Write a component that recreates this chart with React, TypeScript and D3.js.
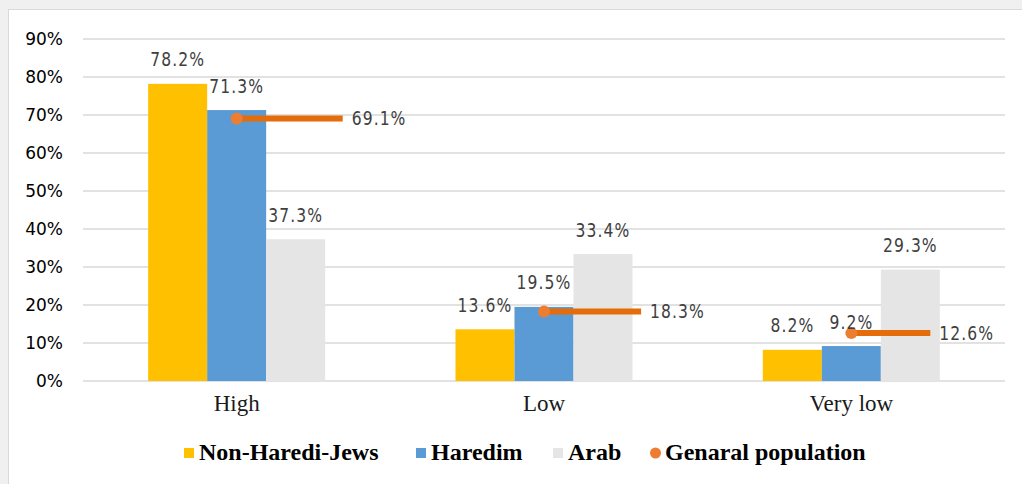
import React from "react";
import * as d3 from "d3";

const categories = ["High", "Low", "Very low"];
const seriesNames = ["Non-Haredi-Jews", "Haredim", "Arab"];
const nonHarediJews = [0.782, 0.136, 0.082];
const haredim = [0.713, 0.195, 0.092];
const arab = [0.373, 0.334, 0.293];
const generalPopulation = [0.691, 0.183, 0.126];
const yTicks = [0, 0.1, 0.2, 0.3, 0.4, 0.5, 0.6, 0.7, 0.8, 0.9];
const legendNames = ["Non-Haredi-Jews", "Haredim", "Arab", "Genaral population"];

const barColors = ["#FFC000", "#5B9BD5", "#E5E5E5"];
const lineColor = "#E46C0A";
const dotColor = "#ED7D31";

export default function App() {
  const W = 1022;
  const H = 484;
  const left = 83;
  const right = 1005;
  const y = d3.scaleLinear().domain([0, 0.9]).range([381, 39]);
  const x0 = d3
    .scaleBand<string>()
    .domain(categories)
    .range([left, right])
    .paddingInner(0.424)
    .paddingOuter(0.212);
  const x1 = d3
    .scaleBand<string>()
    .domain(seriesNames)
    .range([0, x0.bandwidth()])
    .padding(0);
  const seriesValues = [nonHarediJews, haredim, arab];
  const fmt = d3.format(".1%");
  const reach = [0.345, 0.316, 0.257];
  const legendX = [184, 416, 553, 650];
  const labelScale = "scale(0.82,1)";
  const labelSpacing = 1.3;

  return (
    <svg
      width={W}
      height={H}
      style={{ position: "absolute", left: 0, top: 0, display: "block" }}
    >
      <rect x={0} y={0} width={W} height={H} fill="#f0f0f0" />
      <rect x={8.5} y={9.5} width={W} height={H} fill="#ffffff" stroke="#d9d9d9" strokeWidth={1} />

      {yTicks.map((t) => (
        <g key={t}>
          <line x1={left} x2={right} y1={y(t)} y2={y(t)} stroke="#d9d9d9" strokeWidth={1.6} />
          <text
            x={63}
            y={y(t)}
            dy="0.36em"
            textAnchor="end"
            fontFamily="DejaVu Sans, sans-serif"
            fontSize={17}
            fill="#000"
          >
            {d3.format(".0%")(t)}
          </text>
        </g>
      ))}

      {categories.map((c, ci) => (
        <g key={c} transform={`translate(${x0(c)},0)`}>
          {seriesNames.map((s, si) => {
            const v = seriesValues[si][ci];
            return (
              <rect
                key={s}
                x={x1(s)}
                y={y(v)}
                width={x1.bandwidth()}
                height={y(0) - y(v)}
                fill={barColors[si]}
              />
            );
          })}
        </g>
      ))}

      {categories.map((c) => (
        <text
          key={c}
          x={(x0(c) as number) + x0.bandwidth() / 2}
          y={411}
          textAnchor="middle"
          fontFamily="Liberation Serif, Times New Roman, serif"
          fontSize={23}
          fill="#1a1a1a"
        >
          {c}
        </text>
      ))}

      {categories.map((c, ci) => {
        const cx = (x0(c) as number) + (x1(seriesNames[1]) as number) + x1.bandwidth() / 2;
        const cy = y(generalPopulation[ci]);
        const ex = cx + x0.step() * reach[ci];
        return (
          <g key={c}>
            <line x1={cx} x2={ex} y1={cy} y2={cy} stroke={lineColor} strokeWidth={6} />
            <circle cx={cx} cy={cy} r={6} fill={dotColor} />
            <g transform={`translate(${ex + 9},${cy + 7}) ${labelScale}`}>
              <text
                x={0}
                y={0}
                fontFamily="DejaVu Sans, sans-serif"
                fontSize={19}
                letterSpacing={labelSpacing}
                fill="#404040"
              >
                {fmt(generalPopulation[ci])}
              </text>
            </g>
          </g>
        );
      })}

      {categories.map((c, ci) => (
        <g key={c}>
          {seriesNames.map((s, si) => {
            const v = seriesValues[si][ci];
            const bx = (x0(c) as number) + (x1(s) as number) + x1.bandwidth() / 2;
            return (
              <g key={s} transform={`translate(${bx},${y(v) - 17.5}) ${labelScale}`}>
                <text
                  x={0}
                  y={0}
                  textAnchor="middle"
                  fontFamily="DejaVu Sans, sans-serif"
                  fontSize={19}
                  letterSpacing={labelSpacing}
                  fill="#404040"
                >
                  {fmt(v)}
                </text>
              </g>
            );
          })}
        </g>
      ))}

      {legendNames.map((n, i) => (
        <g key={n} transform={`translate(${legendX[i]},0)`}>
          {i < 3 ? (
            <rect x={0} y={448} width={10} height={10} fill={barColors[i]} />
          ) : (
            <circle cx={5.5} cy={453} r={5.5} fill={dotColor} />
          )}
          <text
            x={15}
            y={460}
            fontFamily="Liberation Serif, Times New Roman, serif"
            fontWeight="bold"
            fontSize={24}
            fill="#000"
          >
            {n}
          </text>
        </g>
      ))}
    </svg>
  );
}
